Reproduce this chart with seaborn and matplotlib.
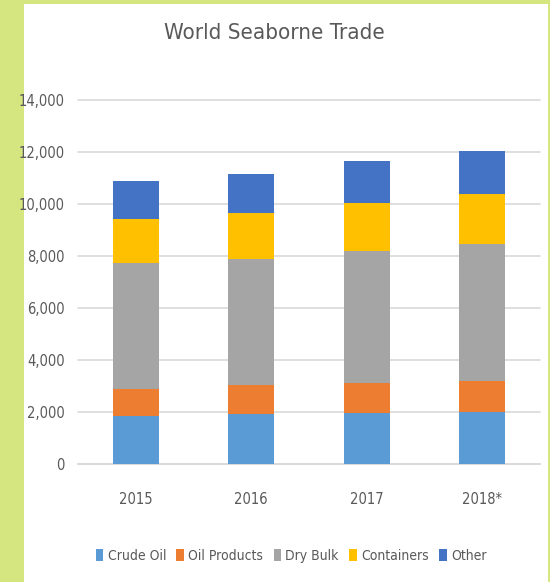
import matplotlib
matplotlib.use("Agg")
import matplotlib.pyplot as plt
import matplotlib.patches as mpatches
from matplotlib.ticker import FuncFormatter
import numpy as np
import pandas as pd
import seaborn as sns

years = ["2015", "2016", "2017", "2018*"]
series_names = ["Crude Oil", "Oil Products", "Dry Bulk", "Containers", "Other"]
crude_oil = [1850, 1910, 1950, 2010]
oil_products = [1020, 1120, 1150, 1190]
dry_bulk = [4870, 4860, 5090, 5260]
containers = [1680, 1760, 1830, 1910]
other = [1450, 1490, 1620, 1650]
colors = ["#5B9BD5", "#ED7D31", "#A5A5A5", "#FFC000", "#4472C4"]
yticks = [0, 2000, 4000, 6000, 8000, 10000, 12000, 14000]

sns.set_theme(style="white")
plt.rcParams["font.family"] = ["DejaVu Sans"]
plt.rcParams["font.stretch"] = "condensed"
TXT = "#595959"

W, H = 550, 582
fig = plt.figure(figsize=(W / 100, H / 100), dpi=100)
fig.patch.set_facecolor("#D5E680")
fig.patches.append(mpatches.Rectangle((24 / W, 0), (548 - 24) / W, (H - 4) / H,
                                      transform=fig.transFigure, facecolor="white",
                                      edgecolor="none", zorder=-5))

ax = fig.add_axes([78 / W, (H - 464) / H, (540 - 78) / W, (464 - 100) / H])
ax.set_zorder(2)
ax.set_facecolor("none")

layers = [crude_oil, oil_products, dry_bulk, containers, other]
cum = np.cumsum(np.array(layers), axis=0)
for i in range(len(layers) - 1, -1, -1):
    df = pd.DataFrame({"year": years, "value": cum[i]})
    sns.barplot(data=df, x="year", y="value", color=colors[i], saturation=1,
                width=0.4, ax=ax, zorder=3, linewidth=0)

ax.set_ylim(0, 14000)
ax.set_yticks(yticks)
ax.yaxis.set_major_formatter(FuncFormatter(lambda v, p: f"{int(v):,}"))
ax.grid(axis="y", color="#D9D9D9", linewidth=1.2, zorder=0)
for gl in ax.get_ygridlines():
    gl.set_clip_on(False)
ax.set_axisbelow(True)
for s in ["top", "right", "left"]:
    ax.spines[s].set_visible(False)
ax.spines["bottom"].set_color("#D9D9D9")
ax.spines["bottom"].set_linewidth(1.2)
ax.set_xlabel("")
ax.set_ylabel("")
ax.tick_params(axis="y", length=0, pad=9.5, labelsize=10.5, labelcolor=TXT)
ax.tick_params(axis="x", length=0, pad=20, labelsize=10.5, labelcolor=TXT)

fig.text(274 / W, 1 - 33 / H, "World Seaborne Trade", ha="center", va="center",
         fontsize=16, color=TXT)

handles = [mpatches.Patch(facecolor=c, edgecolor="none", label=n)
           for c, n in zip(colors, series_names)]
fig.legend(handles=handles, loc="center", bbox_to_anchor=(291 / W, 1 - 556 / H),
           ncol=5, frameon=False, fontsize=10, labelcolor=TXT,
           handlelength=0.55, handleheight=1.0, handletextpad=0.3, columnspacing=0.75)

fig.savefig("out.png", dpi=100, facecolor=fig.get_facecolor())
